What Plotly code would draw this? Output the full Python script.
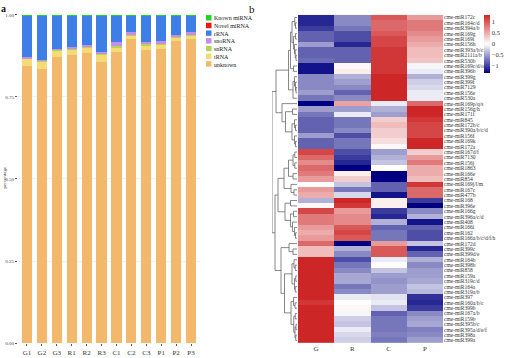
import plotly.graph_objects as go

W, H = 520, 358
SERIF = "Liberation Serif"

# ---------------- panel a data ----------------
samples = ["G1", "G2", "G3", "R1", "R2", "R3", "C1", "C2", "C3", "P1", "P2", "P3"]
unknown = [0.845, 0.835, 0.872, 0.877, 0.883, 0.857, 0.887, 0.927, 0.893, 0.897, 0.920, 0.927]
trna    = [0.022, 0.024, 0.020, 0.019, 0.017, 0.024, 0.013, 0.011, 0.014, 0.013, 0.010, 0.010]
snrna   = [0.002, 0.002, 0.002, 0.002, 0.003, 0.002, 0.004, 0.004, 0.005, 0.004, 0.005, 0.005]
snorna  = [0.002, 0.002, 0.002, 0.004, 0.004, 0.003, 0.012, 0.006, 0.006, 0.006, 0.005, 0.005]
rrna    = [0.128, 0.136, 0.103, 0.097, 0.092, 0.113, 0.083, 0.051, 0.081, 0.079, 0.059, 0.052]
novel   = [0.0005, 0.0005, 0.0005, 0.0005, 0.0005, 0.0005, 0.0005, 0.0005, 0.0005, 0.0005, 0.0005, 0.0005]
known   = [0.0005, 0.0005, 0.0005, 0.0005, 0.0005, 0.0005, 0.0005, 0.0005, 0.0005, 0.0005, 0.0005, 0.0005]

classes = ["unknown", "tRNA", "snRNA", "snoRNA", "rRNA", "Novel miRNA", "Known miRNA"]
class_vals = [unknown, trna, snrna, snorna, rrna, novel, known]
class_colors = ["#F2B96C", "#F3DC73", "#B3D35A", "#C88DE8", "#3D7FE6", "#F21414", "#22D422"]
legend_order = ["Known miRNA", "Novel miRNA", "rRNA", "snoRNA", "snRNA", "tRNA", "unknown"]

# ---------------- panel b data ----------------
mirnas = ["cme-miR172c", "cme-miR164c/d", "cme-miR394a/b", "cme-miR169g", "cme-miR169i",
          "cme-miR156h", "cme-miR393a/b/c", "cme-miR2111a/b", "cme-miR530b", "cme-miR169c/d/o",
          "cme-miR396b", "cme-miR399g", "cme-miR399f", "cme-miR7129", "cme-miR156e",
          "cme-miR530a", "cme-miR169p/q/s", "cme-miR156g/h", "cme-miR171f", "cme-miR845",
          "cme-miR172b/c", "cme-miR390a/b/c/d", "cme-miR156f", "cme-miR169k", "cme-miR172a",
          "cme-miR167d/f", "cme-miR7130", "cme-miR156j", "cme-miR1863", "cme-miR166e",
          "cme-miR854", "cme-miR169j/l/m", "cme-miR167c", "cme-miR477b", "cme-miR168",
          "cme-miR396e", "cme-miR166g", "cme-miR396a/c/d", "cme-miR408", "cme-miR166i",
          "cme-miR162", "cme-miR166a/b/c/d/f/h", "cme-miR172d", "cme-miR399c", "cme-miR399d/e",
          "cme-miR164b", "cme-miR398b", "cme-miR858", "cme-miR159a", "cme-miR319c/d",
          "cme-miR164a", "cme-miR319a/b", "cme-miR397", "cme-miR160a/b/c", "cme-miR399b",
          "cme-miR167a/b", "cme-miR159b", "cme-miR395b/c", "cme-miR395a/d/e/f", "cme-miR398a",
          "cme-miR399a"]
groups = ["G", "R", "C", "P"]
G_vals = [-1.1, -1.1, -1.0, -0.8, -0.8, -0.5, -0.8, -0.8, -0.75, -1.2,
          -1.2, -0.6, -0.6, -0.6, -0.5, -0.7, -1.35, -0.5, -0.7, -0.8,
          -0.8, -0.8, -0.5, -0.8, -0.8, 1.1, 0.9, 0.7, 0.9, 0.8,
          0.6, 0.0, 0.6, 0.5, -0.4, 0.05, 1.1, 0.8, 0.8, 0.6,
          0.5, 0.6, 0.9, 0.4, 0.4, 1.4, 1.4, 1.4, 1.45, 1.45,
          1.4, 1.45, 1.3, 1.2, 1.3, 1.45, 1.45, 1.45, 1.45, 1.45,
          1.45]
R_vals = [-0.6, -0.6, -0.7, -0.9, -0.9, -1.1, -0.8, -0.8, -0.8, 0.05,
          0.1, -0.4, -0.5, -0.6, -0.8, -0.6, 0.55, -0.5, -0.1, -0.7,
          -0.7, -0.6, -0.9, -0.7, -0.7, -0.9, -1.0, -1.1, -1.4, 0.1,
          0.3, -0.3, -0.7, -0.2, 1.3, 1.2, 0.6, 0.7, 0.7, 1.0,
          1.1, 1.0, -1.3, -0.4, -0.6, -0.9, -0.7, -0.6, -0.45, -0.45,
          -0.7, -0.6, -0.1, 0.0, 0.05, -0.05, -0.25, -0.3, -0.1, -0.2,
          -0.25]
C_vals = [1.0, 0.9, 0.9, 1.0, 1.1, 1.1, 1.2, 1.2, 1.2, 1.2,
          1.2, 1.4, 1.4, 1.4, 1.4, 1.4, -0.1, -0.4, -0.5, 0.3,
          0.4, 0.3, 0.3, 0.2, 0.05, -0.5, -0.4, -0.3, 0.0, -1.4,
          -1.4, -0.8, -0.8, -1.2, 0.1, 0.1, -1.0, -1.1, -0.4, -0.8,
          -0.7, -0.7, 0.6, 1.0, 1.0, -0.1, 0.0, -0.3, -0.5, -0.55,
          -0.5, -0.5, -0.15, -0.1, -0.3, -0.8, -0.7, -0.7, -0.7, -0.65,
          -0.7]
P_vals = [0.6, 0.8, 0.8, 0.7, 0.6, 0.5, 0.4, 0.4, 0.35, -0.05,
          -0.1, -0.4, -0.25, -0.2, -0.1, -0.1, 0.9, 1.4, 1.3, 1.2,
          1.1, 1.1, 1.1, 1.3, 1.4, 0.3, 0.6, 0.8, 0.5, 0.5,
          0.4, 1.2, 0.9, 0.9, -1.0, -1.3, -0.6, -0.4, -1.2, -0.8,
          -0.9, -0.9, -0.3, -1.1, -0.8, -0.4, -0.6, -0.5, -0.5, -0.45,
          -0.3, -0.35, -1.05, -1.1, -1.0, -0.6, -0.5, -0.45, -0.65, -0.6,
          -0.5]

# row dendrogram topology (leaf = row index, node = [height, left, right])
row_tree = [10.0,
            [8.4,
             [3.4,
              [2.6,
               [2.0, [0.9, 0, [0.6, 1, 2]], [1.4, [0.6, 3, 4], [1.0, 5, [0.7, 6, [0.4, 7, 8]]]]],
               [1.4, 9, 10]],
              [1.6, [1.0, 11, [0.6, 12, [0.4, 13, 14]]], 15]],
             [6.0,
              16,
              [4.6, [1.8, 17, 18], [2.0, [1.0, 19, [0.6, 20, 21]], [1.0, 22, [0.6, 23, 24]]]]]],
            [8.8,
             [7.6,
              [5.2,
               [3.4, [1.6, [0.9, 25, 26], [0.9, 27, 28]], [1.6, 29, 30]],
               [2.4, 31, [1.2, 32, 33]]],
              [4.8, [2.6, 34, 35], [2.6, [1.4, 36, 37], [1.8, 38, [1.0, 39, [0.6, 40, 41]]]]]],
             [6.4,
              [3.2, 42, [1.6, 43, 44]],
              [5.0,
               [2.0, [1.2, 45, [0.7, 46, 47]], [1.0, [0.5, 48, 49], [0.7, 50, 51]]],
               [2.4, [1.4, 52, [0.8, 53, 54]], [1.3, [0.7, 55, 56], [0.8, [0.4, 57, 58], [0.5, 59, 60]]]]]]]]

# ---------------- figure ----------------
fig = go.Figure()

for name, vals, col in zip(classes, class_vals, class_colors):
    fig.add_trace(go.Bar(x=samples, y=vals, name=name, marker=dict(color=col, line=dict(width=0)),
                         xaxis="x", yaxis="y", showlegend=False))

z = [[g, r, c, p] for g, r, c, p in zip(G_vals, R_vals, C_vals, P_vals)]
fig.add_trace(go.Heatmap(
    z=z, x=groups, y=list(range(len(mirnas))), xaxis="x2", yaxis="y2",
    zmin=-1.3, zmax=1.3,
    colorscale=[[0, "#000080"], [0.5, "#FFFFFF"], [1, "#CD2626"]],
    colorbar=dict(x=484 / W, xanchor="left", y=1 - 13 / H, yanchor="top", xpad=0, ypad=0,
                  len=58, lenmode="pixels", thickness=6, outlinewidth=0,
                  tickvals=[1, 0.5, 0, -0.5, -1], ticktext=["1", "0.5", "0", "\u22120.5", "\u22121"],
                  ticks="", tickfont=dict(family=SERIF, size=6.5, color="#333333")),
))

dx, dy = [], []


def walk(node):
    if isinstance(node, int):
        return 0.0, float(node)
    h, left, right = node
    lh, ly = walk(left)
    rh, ry = walk(right)
    dx.extend([lh, h, h, rh, None])
    dy.extend([ly, ly, ry, ry, None])
    return h, (ly + ry) / 2


walk(row_tree)
fig.add_trace(go.Scatter(x=dx, y=dy, mode="lines", xaxis="x3", yaxis="y3",
                         line=dict(color="#555555", width=0.7), showlegend=False, hoverinfo="skip"))

# legend for panel a: one multi-line text block + colour swatches aligned to its lines
shapes, annots = [], []
leg_font = 6
leg_step = 1.3 * leg_font
leg_x, leg_y0, sw = 206, 16, 5.5
for i, name in enumerate(legend_order):
    col = class_colors[classes.index(name)]
    yc = leg_y0 + i * leg_step
    shapes.append(dict(type="rect", xref="paper", yref="paper",
                       x0=leg_x / W, x1=(leg_x + sw) / W,
                       y0=1 - (yc + sw / 2) / H, y1=1 - (yc - sw / 2) / H,
                       fillcolor=col, line=dict(width=0)))
annots.append(dict(x=(leg_x + sw + 1.5) / W, y=1 - (leg_y0 - leg_step / 2) / H, xref="paper", yref="paper",
                   text="<br>".join(legend_order), showarrow=False, xanchor="left", yanchor="top",
                   align="left", borderpad=0,
                   font=dict(family=SERIF, size=leg_font, color="#222222")))

annots.append(dict(x=0, y=1.0, xref="paper", yref="paper", text="<b>a</b>",
                   showarrow=False, xanchor="left", yanchor="top", borderpad=0,
                   font=dict(family=SERIF, size=10, color="#111111")))
annots.append(dict(x=248 / W, y=1.0, xref="paper", yref="paper", text="b",
                   showarrow=False, xanchor="left", yanchor="top", borderpad=0,
                   font=dict(family=SERIF, size=11, color="#111111")))
annots.append(dict(x=5 / W, y=1 - 178 / H, xref="paper", yref="paper", text="percentage",
                   showarrow=False, textangle=-90, xanchor="center", yanchor="middle",
                   font=dict(family=SERIF, size=5, color="#333333")))

top, bottom = 13, 346
ydom = [1 - bottom / H, 1 - top / H]
fig.update_layout(
    width=W, height=H, margin=dict(l=0, r=0, t=0, b=0),
    paper_bgcolor="white", plot_bgcolor="white",
    barmode="stack", bargap=0.32, showlegend=False,
    shapes=shapes, annotations=annots,
    xaxis=dict(domain=[18 / W, 200 / W], range=[-0.6, 11.6], showline=False, ticks="outside",
               ticklen=2, tickcolor="#555555", tickfont=dict(family=SERIF, size=7, color="#333333"),
               showgrid=False, anchor="y"),
    yaxis=dict(domain=ydom, range=[0, 1.0], tickvals=[0, 0.25, 0.5, 0.75, 1.0],
               ticktext=["0.00", "0.25", "0.50", "0.75", "1.00"], ticks="outside", ticklen=2,
               tickcolor="#555555", tickfont=dict(family=SERIF, size=5, color="#444444"),
               showgrid=True, gridcolor="#F0F0F0", gridwidth=0.5, zeroline=False, showline=False,
               anchor="x"),
    xaxis2=dict(domain=[298 / W, 443 / W], showgrid=False, zeroline=False, ticks="",
                tickfont=dict(family=SERIF, size=7, color="#333333"), anchor="y2"),
    yaxis2=dict(domain=ydom, range=[len(mirnas) - 0.5, -0.5], side="right", anchor="x2",
                tickvals=list(range(len(mirnas))), ticktext=mirnas, ticks="",
                tickfont=dict(family=SERIF, size=5.5, color="#333333"), showgrid=False, zeroline=False),
    xaxis3=dict(domain=[272 / W, 297 / W], range=[row_tree[0] * 1.0, 0], visible=False, anchor="y3"),
    yaxis3=dict(domain=ydom, range=[len(mirnas) - 0.5, -0.5], visible=False, anchor="x3"),
)

fig.write_html("out.html", config={"displayModeBar": False},
               post_script="document.body.style.margin='0';document.body.style.overflow='hidden';")
